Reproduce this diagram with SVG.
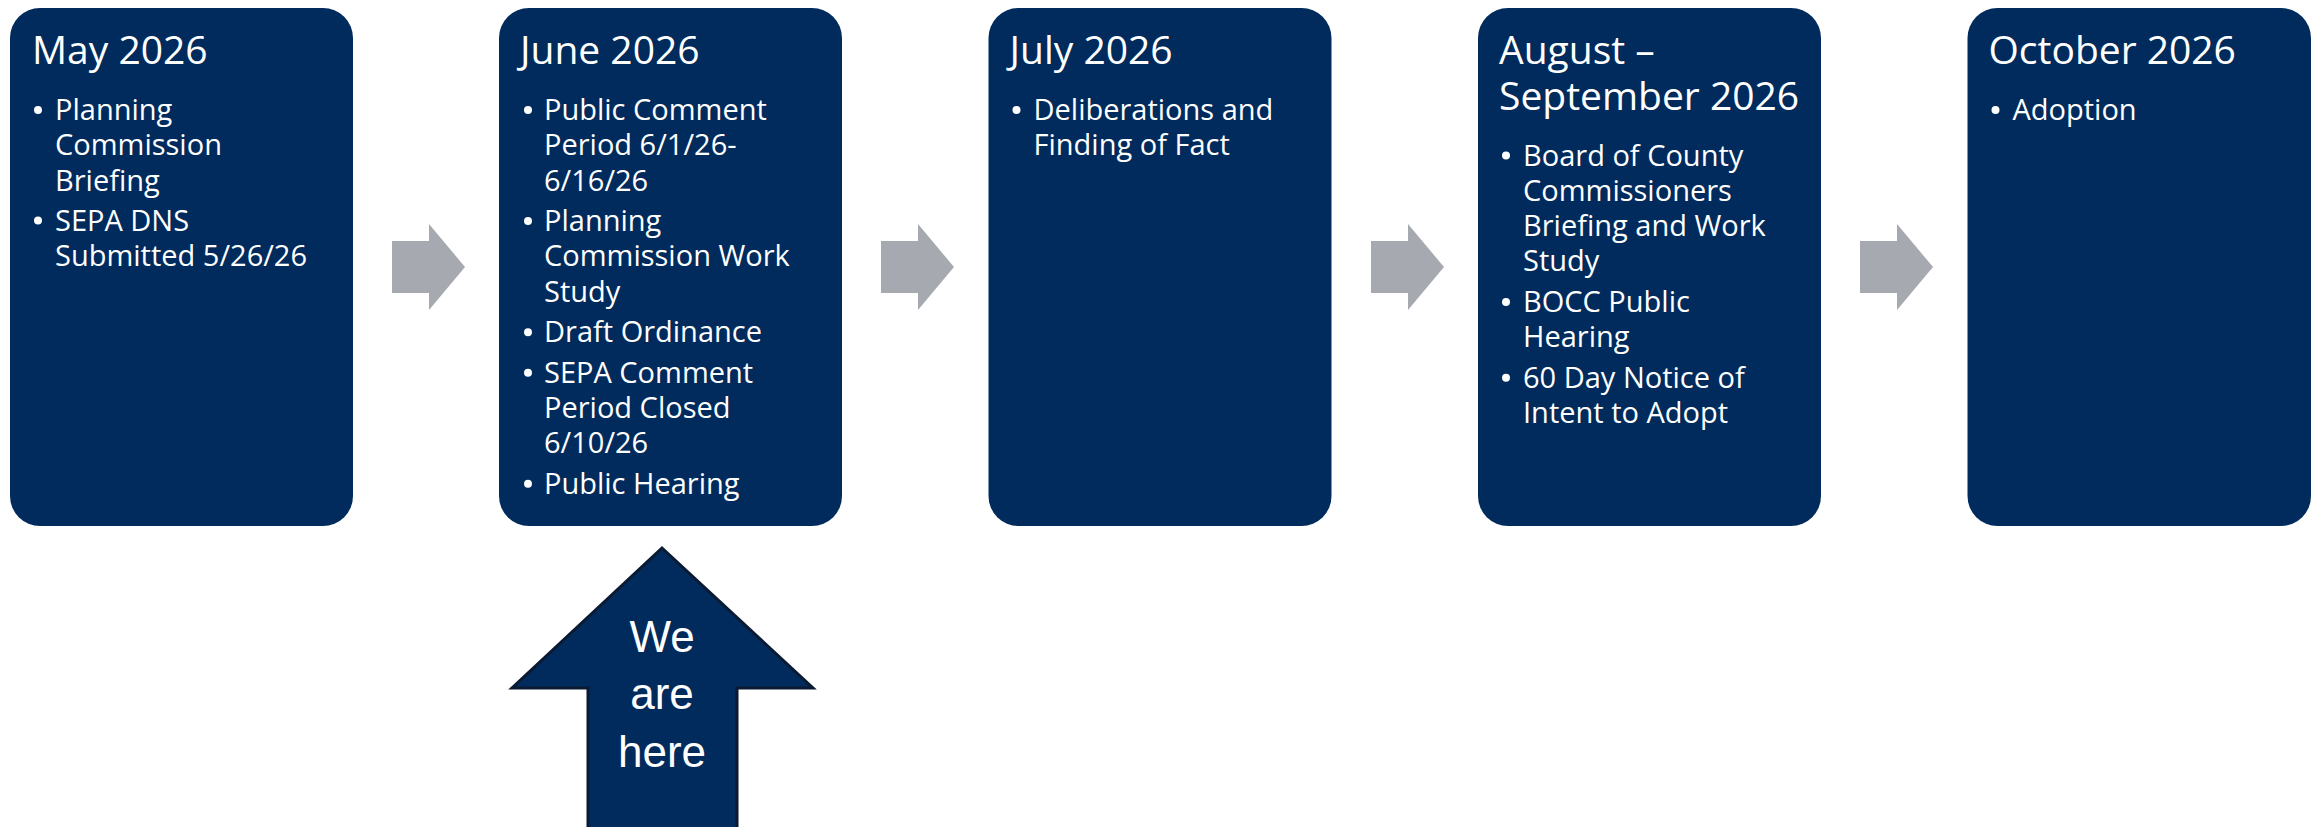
<svg xmlns="http://www.w3.org/2000/svg" width="2323" height="827" viewBox="0 0 2323 827">
<style>
.box{fill:#002B5C}
.title{font-family:"Open Sans","Liberation Sans",sans-serif;font-size:39px;fill:#FFFFFF}
.body{font-family:"Open Sans","Liberation Sans",sans-serif;font-size:29px;fill:#FFFFFF}
.dot{fill:#FFFFFF}
.conn{fill:#A7A9B1}
.here{fill:#002B5C;stroke:#0B1A33;stroke-width:3}
.heretxt{font-family:"Liberation Sans",Arial,sans-serif;font-size:44px;fill:#FFFFFF;text-anchor:middle}
</style>
<rect width="2323" height="827" fill="#FFFFFF"/>
<g id="connectors">
<polygon class="conn" points="392,241 429,241 429,224 465,267 429,310 429,293 392,293"/>
<polygon class="conn" points="881,241 918,241 918,224 954,267 918,310 918,293 881,293"/>
<polygon class="conn" points="1371,241 1408,241 1408,224 1444,267 1408,310 1408,293 1371,293"/>
<polygon class="conn" points="1860,241 1897,241 1897,224 1933,267 1897,310 1897,293 1860,293"/>
</g>
<g id="node-may">
<rect class="box" x="10" y="8" width="343" height="518" rx="30"/>
<text class="title" x="32" y="64">May 2026</text>
<circle class="dot" cx="38" cy="110" r="4"/>
<circle class="dot" cx="38" cy="220.5" r="4"/>
<text class="body"><tspan x="55" y="120">Planning</tspan><tspan x="55" y="155.3">Commission</tspan><tspan x="55" y="190.6">Briefing</tspan><tspan x="55" y="231.1">SEPA DNS</tspan><tspan x="55" y="266.4">Submitted 5/26/26</tspan></text>
</g>
<g id="node-june">
<rect class="box" x="499" y="8" width="343" height="518" rx="30"/>
<text class="title" x="520" y="64">June 2026</text>
<circle class="dot" cx="528" cy="110" r="4"/>
<circle class="dot" cx="528" cy="221.1" r="4"/>
<circle class="dot" cx="528" cy="332.2" r="4"/>
<circle class="dot" cx="528" cy="372.7" r="4"/>
<circle class="dot" cx="528" cy="483.8" r="4"/>
<text class="body"><tspan x="544" y="120">Public Comment</tspan><tspan x="544" y="155.3">Period 6/1/26-</tspan><tspan x="544" y="190.6">6/16/26</tspan><tspan x="544" y="231.1">Planning</tspan><tspan x="544" y="266.4">Commission Work</tspan><tspan x="544" y="301.7">Study</tspan><tspan x="544" y="342.2">Draft Ordinance</tspan><tspan x="544" y="382.7">SEPA Comment</tspan><tspan x="544" y="418">Period Closed</tspan><tspan x="544" y="453.3">6/10/26</tspan><tspan x="544" y="493.8">Public Hearing</tspan></text>
</g>
<g id="node-july">
<rect class="box" x="988.5" y="8" width="343" height="518" rx="30"/>
<text class="title" x="1009.5" y="64">July 2026</text>
<circle class="dot" cx="1016.5" cy="110" r="4"/>
<text class="body"><tspan x="1033.5" y="120">Deliberations and</tspan><tspan x="1033.5" y="155.3">Finding of Fact</tspan></text>
</g>
<g id="node-aug-sep">
<rect class="box" x="1478" y="8" width="343" height="518" rx="30"/>
<text class="title"><tspan x="1499" y="64">August –</tspan><tspan x="1499" y="110">September 2026</tspan></text>
<circle class="dot" cx="1506" cy="155.5" r="4"/>
<circle class="dot" cx="1506" cy="301.9" r="4"/>
<circle class="dot" cx="1506" cy="377.7" r="4"/>
<text class="body"><tspan x="1523" y="165.5">Board of County</tspan><tspan x="1523" y="200.8">Commissioners</tspan><tspan x="1523" y="236.1">Briefing and Work</tspan><tspan x="1523" y="271.4">Study</tspan><tspan x="1523" y="311.9">BOCC Public</tspan><tspan x="1523" y="347.2">Hearing</tspan><tspan x="1523" y="387.7">60 Day Notice of</tspan><tspan x="1523" y="423">Intent to Adopt</tspan></text>
</g>
<g id="node-oct">
<rect class="box" x="1967.5" y="8" width="343.5" height="518" rx="30"/>
<text class="title" x="1988.5" y="64">October 2026</text>
<circle class="dot" cx="1995.5" cy="110" r="4"/>
<text class="body"><tspan x="2012.5" y="120">Adoption</tspan></text>
</g>
<g id="node-we-are-here">
<polygon class="here" points="662,548 813,688 737,688 737,830 588,830 588,688 512,688"/>
<text class="heretxt"><tspan x="662" y="652">We</tspan><tspan x="662" y="709">are</tspan><tspan x="662" y="767">here</tspan></text>
</g>
</svg>
